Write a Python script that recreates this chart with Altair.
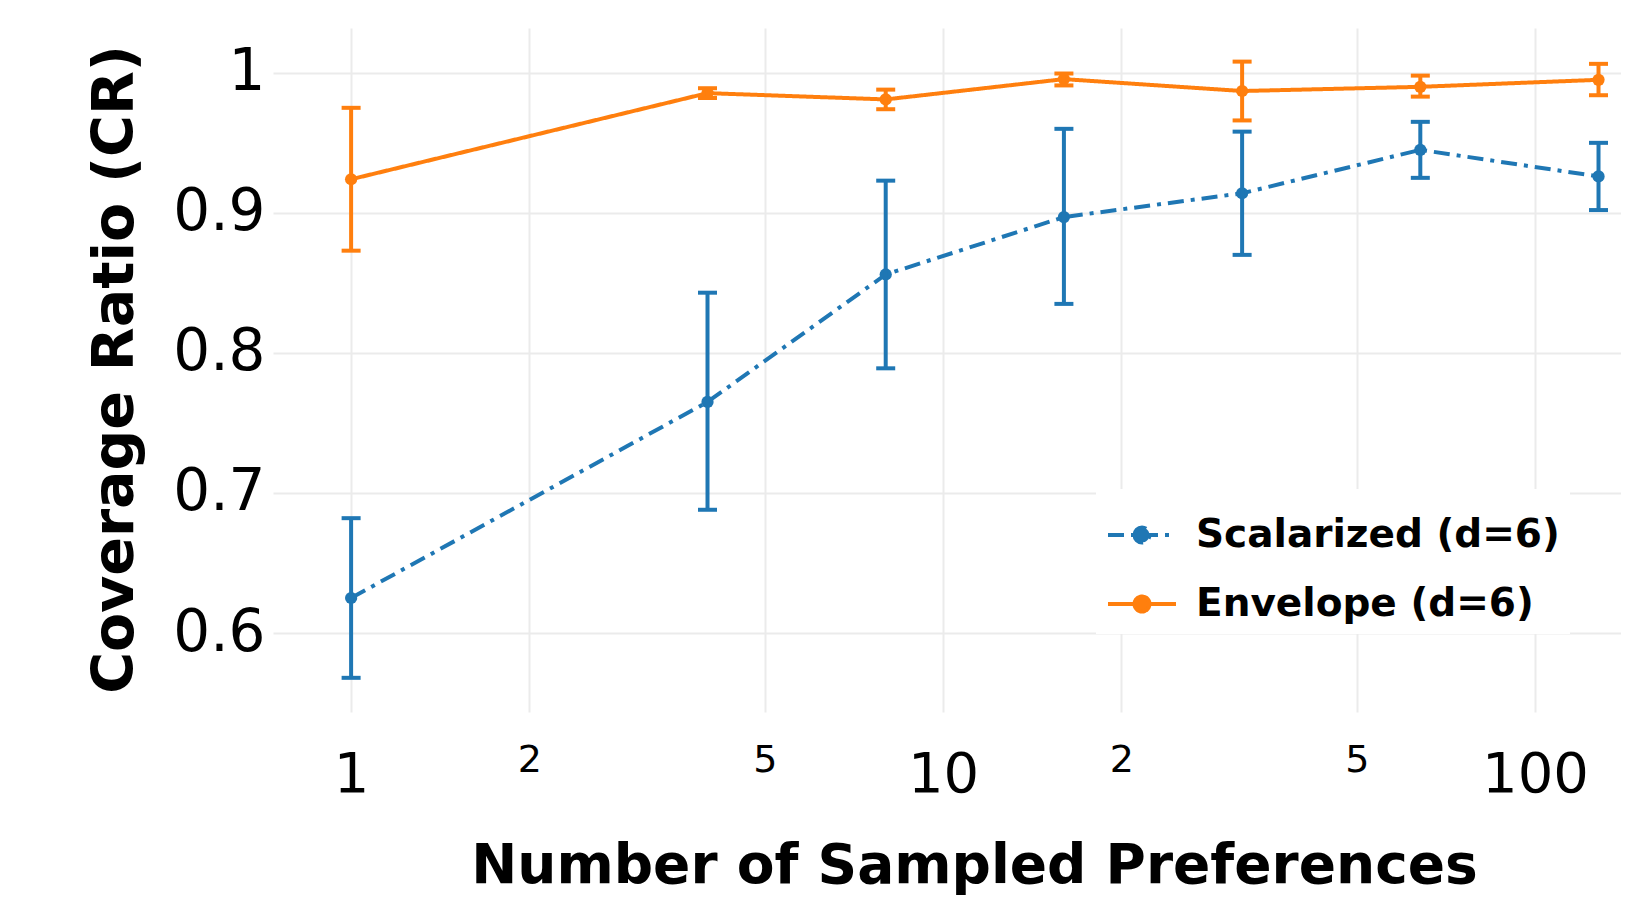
import altair as alt
import pandas as pd

series = ["Scalarized (d=6)", "Envelope (d=6)"]
colors = ["#1f77b4", "#ff7f0e"]
n_prefs = [1, 4, 8, 16, 32, 64, 128]

scal_mean = [0.625, 0.765, 0.856, 0.897, 0.914, 0.945, 0.926]
scal_low = [0.568, 0.688, 0.789, 0.835, 0.870, 0.925, 0.902]
scal_high = [0.682, 0.843, 0.923, 0.960, 0.958, 0.965, 0.950]

env_mean = [0.924, 0.9855, 0.981, 0.9955, 0.987, 0.990, 0.995]
env_low = [0.873, 0.982, 0.974, 0.991, 0.966, 0.983, 0.984]
env_high = [0.975, 0.989, 0.988, 0.9995, 1.008, 0.998, 1.0064]

x_ticks = [1, 2, 5, 10, 20, 50, 100]
y_ticks = [0.6, 0.7, 0.8, 0.9, 1.0]

rows = []
for s, m, lo, hi in [(series[0], scal_mean, scal_low, scal_high),
                     (series[1], env_mean, env_low, env_high)]:
    for n, a, b, c in zip(n_prefs, m, lo, hi):
        rows.append({"series": s, "n": n, "mean": a, "low": b, "high": c})
df = pd.DataFrame(rows)

minor_test = "datum.value == 2 || datum.value == 5 || datum.value == 20 || datum.value == 50"
TITLE_FONT = "DejaVu Sans"

x_axis = alt.Axis(
    values=x_ticks,
    labelExpr="(datum.value == 20 || datum.value == 50) ? format(datum.value / 10, 'd') : format(datum.value, 'd')",
    labelFont="DejaVu Sans",
    labelFontSize={"condition": {"test": minor_test, "value": 38}, "value": 56},
    labelPadding={"condition": {"test": minor_test, "value": 29}, "value": 35},
    labelBaseline="top",
    labelColor="black",
    labelOverlap=False,
    labelFlush=False,
    domain=False,
    ticks=False,
    grid=True,
    gridColor="#ebebeb",
    gridWidth=2,
    title="Number of Sampled Preferences",
    titleFont=TITLE_FONT,
    titleFontWeight="bold",
    titleFontSize=55,
    titleColor="black",
    titleX=701,
    titleY=170,
    titleBaseline="alphabetic",
    titleAlign="center",
)

y_axis = alt.Axis(
    values=y_ticks,
    labelExpr="format(datum.value, '.1~f')",
    labelFont="DejaVu Sans",
    labelFontSize=58,
    labelPadding=8,
    labelColor="black",
    labelBaseline="middle",
    domain=False,
    ticks=False,
    grid=True,
    gridColor="#ebebeb",
    gridWidth=2,
    title="Coverage Ratio (CR)",
    titleFont=TITLE_FONT,
    titleFontWeight="bold",
    titleFontSize=57,
    titleColor="black",
    titleX=-141,
    titleY=341,
    titleAngle=270,
    titleBaseline="alphabetic",
    titleAlign="center",
)

x_scale = alt.Scale(type="log", domain=[0.738, 139.7], nice=False)
y_scale = alt.Scale(domain=[0.5436, 1.032], nice=False, zero=False)

legend_path = "M-1,0L1,0M-0.22,0A0.22,0.22,0,1,1,0.22,0A0.22,0.22,0,1,1,-0.22,0Z"
legend = alt.Legend(
    title=None,
    orient="none",
    legendX=823,
    legendY=461,
    fillColor="white",
    padding=10,
    labelFont=TITLE_FONT,
    labelFontWeight="bold",
    labelFontSize=39,
    labelColor="black",
    labelOffset=18,
    labelLimit=0,
    symbolType=legend_path,
    symbolSize=4624,
    symbolStrokeWidth=4,
    rowPadding=13,
)

color = alt.Color("series:N", scale=alt.Scale(domain=series, range=colors), legend=legend)
dash = alt.StrokeDash("series:N", scale=alt.Scale(domain=series, range=[[16, 7, 4, 7], [1, 0]]), legend=legend)

base = alt.Chart(df)

points = base.mark_point(filled=True, size=150, opacity=1).encode(
    x=alt.X("n:Q", scale=x_scale, axis=x_axis),
    y=alt.Y("mean:Q", scale=y_scale, axis=y_axis),
    color=color,
)

line = base.mark_line(strokeWidth=4).encode(
    x=alt.X("n:Q", scale=x_scale, axis=x_axis),
    y=alt.Y("mean:Q", scale=y_scale, axis=y_axis),
    color=color,
    strokeDash=dash,
)

rules = base.mark_rule(strokeWidth=4).encode(
    x=alt.X("n:Q", scale=x_scale, axis=x_axis),
    y=alt.Y("low:Q", scale=y_scale, axis=y_axis),
    y2="high:Q",
    color=color,
)

cap_low = base.mark_tick(orient="horizontal", size=19, thickness=4, opacity=1).encode(
    x=alt.X("n:Q", scale=x_scale, axis=x_axis),
    y=alt.Y("low:Q", scale=y_scale, axis=y_axis),
    color=color,
)

cap_high = base.mark_tick(orient="horizontal", size=19, thickness=4, opacity=1).encode(
    x=alt.X("n:Q", scale=x_scale, axis=x_axis),
    y=alt.Y("high:Q", scale=y_scale, axis=y_axis),
    color=color,
)

chart = alt.layer(points, line, rules, cap_low, cap_high).properties(
    width=1348,
    height=684,
    autosize=alt.AutoSizeParams(type="none"),
    padding={"left": 265, "top": 20, "right": 0, "bottom": 185},
    background="white",
).configure_view(stroke=None)

chart.save("out.html", embed_options={"renderer": "svg", "actions": False})
